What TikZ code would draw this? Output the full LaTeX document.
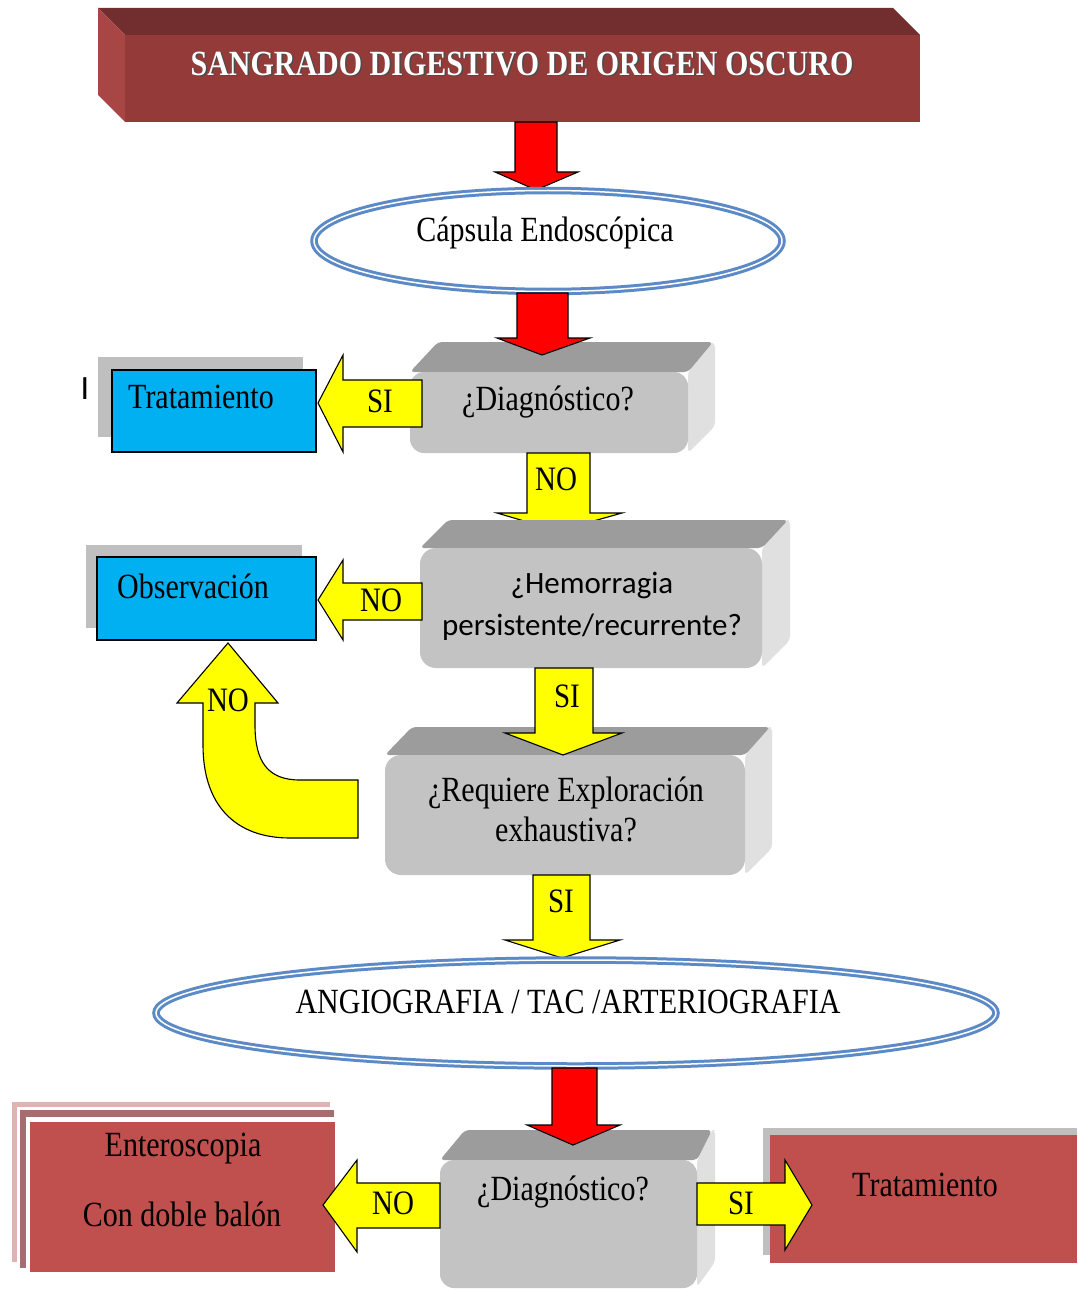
\documentclass[tikz,border=0pt]{standalone}
\usepackage{fontspec}
\usepackage{graphicx}
\setmainfont{Liberation Serif}
\newfontfamily\calib{Carlito}
\usetikzlibrary{shapes.geometric}
\definecolor{titlefront}{HTML}{943A38}
\definecolor{titletop}{HTML}{722E2E}
\definecolor{titleside}{HTML}{A84545}
\definecolor{ellblue}{HTML}{5B8AC6}
\definecolor{gfront}{HTML}{C3C3C3}
\definecolor{gtop}{HTML}{9C9C9C}
\definecolor{gside}{HTML}{E0E0E0}
\definecolor{bluebox}{HTML}{00B0F0}
\definecolor{redbox}{HTML}{C0504D}
\definecolor{yell}{HTML}{FFFF00}
\definecolor{entA}{HTML}{DDB3B3}
\definecolor{entB}{HTML}{A56E6E}
\newcommand\tall[1]{\scalebox{1}[1.18]{#1}}
\tikzset{
  yarrow/.style={fill=yell,draw=black,line width=1.1pt,line join=miter},
  rarrow/.style={fill=red,draw=black,line width=1.1pt,line join=miter},
  lbl/.style={font=\fontsize{29}{32}\selectfont,inner sep=0pt,text=black},
  txt/.style={font=\fontsize{30}{33}\selectfont,inner sep=0pt,text=black,align=center},
  ell/.style={ellipse,draw=ellblue,line width=3pt,double=white,double distance=1.5pt,fill=white,inner sep=0pt},
  bluefront/.style={fill=bluebox,draw=black,line width=1.1pt},
  shadowbox/.style={fill=black!25},
  redfront/.style={fill=redbox},
}
\begin{document}
\begin{tikzpicture}[x=1pt,y=-1pt]
\useasboundingbox (0,0) rectangle (1077,1289);
\fill[white] (0,0) rectangle (1077,1289);

% ---------- title box ----------
\fill[titletop] (98,8) -- (893,8) -- (920,35) -- (125,35) -- cycle;
\fill[titleside] (98,8) -- (125,35) -- (125,122) -- (98,95) -- cycle;
\fill[titlefront] (125,35) rectangle (920,122);
\node[txt,text=black!70,font=\bfseries\fontsize{30}{33}\selectfont] (titleshadow) at (523.5,65.5) {\tall{SANGRADO DIGESTIVO DE ORIGEN OSCURO}};
\node[txt,text=white,font=\bfseries\fontsize{30}{33}\selectfont] (title) at (522,64) {\tall{SANGRADO DIGESTIVO DE ORIGEN OSCURO}};

% ---------- arrow 1 ----------
\draw[rarrow] (515,122) -- (557,122) -- (557,172) -- (578,172) -- (536,190) -- (495,172) -- (515,172) -- cycle;

% ---------- capsule ellipse ----------
\node[ell,minimum width=468,minimum height=101] (cap) at (548,241) {};
\node[txt] (captxt) at (545,233) {\tall{Cápsula Endoscópica}};

% ---------- gray box 1 ----------
\fill[gside,rounded corners=4pt] (688,372) -- (710,343) -- (715,343) -- (715,426) -- (688,453) -- cycle;
\fill[gtop,rounded corners=4pt] (410,372) -- (438,342) -- (713,342) -- (688,372) -- cycle;
\fill[gfront,rounded corners=14pt] (410,372) rectangle (688,453);
\node[txt] (diag1) at (548,402) {\tall{¿Diagnóstico?}};

% ---------- arrow 2 ----------
\draw[rarrow] (517,293) -- (568,293) -- (568,338) -- (590,338) -- (542,355) -- (497,338) -- (517,338) -- cycle;

% ---------- Tratamiento (blue) ----------
\fill[shadowbox] (98,357) rectangle (303,437);
\draw[bluefront] (112,370) rectangle (316,452);
\node[txt] (trat1) at (201,397) {\tall{Tratamiento}};
\node[inner sep=0pt,font=\calib\fontsize{34}{36}\selectfont] (cursor) at (85,389) {I};

% SI arrow left
\draw[yarrow] (422,380) -- (343,380) -- (343,355) -- (318,403) -- (343,452) -- (343,427) -- (422,427) -- cycle;
\node[lbl] (si1) at (380,401) {\tall{SI}};

% NO arrow down
\draw[yarrow] (527,453) -- (590,453) -- (590,513) -- (622,513) -- (558,531) -- (497,513) -- (527,513) -- cycle;
\node[lbl] (no1) at (556,479) {\tall{NO}};

% ---------- gray box 2 ----------
\fill[gside,rounded corners=4pt] (762,548) -- (786,520) -- (790,520) -- (790,640) -- (762,668) -- cycle;
\fill[gtop,rounded corners=4pt] (420,548) -- (448,520) -- (788,520) -- (762,548) -- cycle;
\fill[gfront,rounded corners=16pt] (420,548) rectangle (762,668);
\node[txt,font=\calib\fontsize{31}{42}\selectfont] (hem) at (592,606) {¿Hemorragia\\persistente/recurrente?};

% NO arrow left
\draw[yarrow] (422,583) -- (343,583) -- (343,560) -- (318,600) -- (343,640) -- (343,620) -- (422,620) -- cycle;
\node[lbl] (no2) at (381,600) {\tall{NO}};

% ---------- Observacion ----------
\fill[shadowbox] (86,545) rectangle (302,628);
\draw[bluefront] (97,557) rectangle (316,640);
\node[txt] (obs) at (193,586) {\tall{Observación}};

% ---------- gray box 3 ----------
\fill[gside,rounded corners=4pt] (745,755) -- (768,727) -- (772,727) -- (772,848) -- (745,875) -- cycle;
\fill[gtop,rounded corners=4pt] (385,755) -- (412,727) -- (770,727) -- (745,755) -- cycle;
\fill[gfront,rounded corners=16pt] (385,755) rectangle (745,875);
\node[txt,font=\fontsize{30}{40}\selectfont] (req) at (566,809) {\tall{¿Requiere Exploración}\\\tall{exhaustiva?}};

% SI arrow down (over box 3)
\draw[yarrow] (535,668) -- (593,668) -- (593,733) -- (622,733) -- (563,755) -- (505,733) -- (535,733) -- cycle;
\node[lbl] (si2) at (567,696) {\tall{SI}};

% curved NO arrow
\draw[yarrow] (358,780) -- (300,780) .. controls (268,780) and (255,762) .. (255,725) -- (255,703) -- (278,703) -- (228,643) -- (177,703) -- (203,703) -- (203,745) .. controls (203,805) and (235,838) .. (290,838) -- (358,838) -- cycle;
\node[lbl] (no3) at (228,700) {\tall{NO}};

% SI arrow down to ellipse 2
\draw[yarrow] (533,875) -- (590,875) -- (590,940) -- (620,940) -- (562,958) -- (505,940) -- (533,940) -- cycle;
\node[lbl] (si3) at (561,901) {\tall{SI}};

% ---------- ellipse 2 ----------
\node[ell,minimum width=840,minimum height=106] (angio) at (576,1013) {};
\node[txt] (angiotxt) at (568,1002) {\tall{ANGIOGRAFIA / TAC /ARTERIOGRAFIA}};

% ---------- gray box 4 ----------
\fill[gside,rounded corners=4pt] (697,1160) -- (712,1130) -- (715,1130) -- (715,1262) -- (697,1287) -- cycle;
\fill[gtop,rounded corners=4pt] (440,1160) -- (465,1130) -- (712,1130) -- (697,1160) -- cycle;
\fill[gfront,rounded corners=14pt] (440,1160) rectangle (697,1288);
\node[txt] (diag2) at (563,1192) {\tall{¿Diagnóstico?}};

% arrow 3
\draw[rarrow] (552,1068) -- (597,1068) -- (597,1125) -- (620,1125) -- (573,1145) -- (527,1125) -- (552,1125) -- cycle;

% ---------- Enteroscopia ----------
\fill[entA] (12,1102) rectangle (330,1262);
\fill[white] (17,1107) rectangle (333,1266);
\fill[entB] (20,1110) rectangle (334,1268);
\fill[white] (26,1117) rectangle (336,1272);
\fill[redfront] (30,1122) rectangle (335,1272);
\node[txt] (ent1) at (183,1149) {\tall{Enteroscopia}};
\node[txt] (ent2) at (182,1214) {\tall{Con doble balón}};

% NO arrow left
\draw[yarrow] (440,1183) -- (357,1183) -- (357,1160) -- (323,1205) -- (357,1252) -- (357,1228) -- (440,1228) -- cycle;
\node[lbl] (no4) at (393,1203) {\tall{NO}};

% ---------- Tratamiento (red) ----------
\fill[shadowbox] (763,1128) rectangle (1077,1255);
\fill[redfront] (770,1135) rectangle (1077,1263);
\node[txt] (trat2) at (925,1185) {\tall{Tratamiento}};

% SI arrow right
\draw[yarrow] (697,1183) -- (785,1183) -- (785,1160) -- (812,1205) -- (785,1250) -- (785,1225) -- (697,1225) -- cycle;
\node[lbl] (si4) at (741,1203) {\tall{SI}};
\end{tikzpicture}
\end{document}
